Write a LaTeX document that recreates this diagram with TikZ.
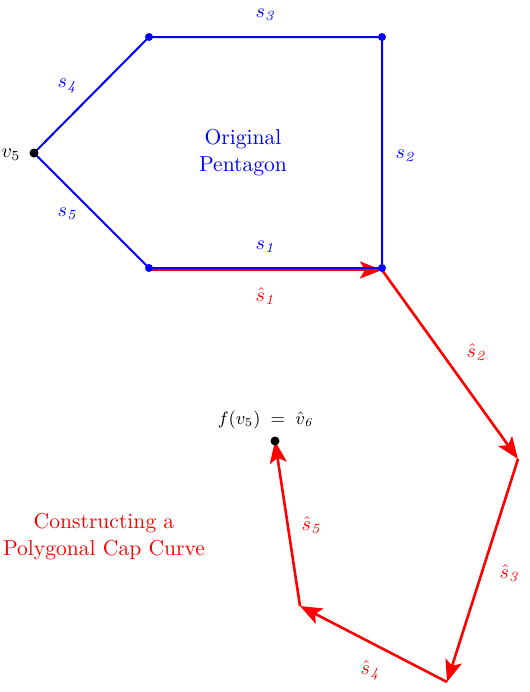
\documentclass[tikz,border=0pt]{standalone}
\usetikzlibrary{arrows.meta}
\tikzset{
  side/.style={blue, line width=1pt},
  capside/.style={red, line width=1.3pt, -{Stealth[length=11pt,width=8.5pt,inset=2.5pt]}},
  bluelbl/.style={blue},
  redlbl/.style={red}
}
\begin{document}
\begin{tikzpicture}[x=0.5pt,y=-0.5pt]
\useasboundingbox (0,0) rectangle (530,692);

% pentagon corners
\coordinate (A) at (149,268);
\coordinate (B) at (382,268);
\coordinate (C) at (382,37);
\coordinate (D) at (149,37);
\coordinate (v5) at (34,153);

% cap curve corners
\coordinate (P1) at (149,270);
\coordinate (P2) at (382,270);
\coordinate (P3) at (518,459);
\coordinate (P4) at (447,682);
\coordinate (P5) at (300,606);
\coordinate (P6) at (275,441);

\draw [capside] (P1) -- (P2);

\draw [side] (A) -- (B) -- (C) -- (D) -- (v5) -- cycle;

\draw [capside] (P2) -- (P3);
\draw [capside] (P3) -- (P4);
\draw [capside] (P4) -- (P5);
\draw [capside] (P5) -- (P6);

\foreach \p in {A,B,C,D}
  \fill [blue] (\p) circle (4);
\fill (v5) circle (4.5);
\fill (P6) circle (4.5);

\node [bluelbl] (s1) at (266,247) {$s_{\mathit{1}}$};
\node [bluelbl] (s2) at (406,156) {$s_{\mathit{2}}$};
\node [bluelbl] (s3) at (266,15) {$s_{\mathit{3}}$};
\node [bluelbl] (s4) at (68,86) {$s_{\mathit{4}}$};
\node [bluelbl] (s5) at (68,214) {$s_{\mathit{5}}$};
\node (lv5) at (11,155) {$v_5$};
\node [blue, align=center, font=\fontsize{10.8}{13.5}\selectfont] (title) at (243,153) {Original\\Pentagon};

\node [redlbl] (h1) at (266,296) {$\hat{s}_{\mathit{1}}$};
\node [redlbl] (h2) at (477,352) {$\hat{s}_{\mathit{2}}$};
\node [redlbl] (h3) at (510,573) {$\hat{s}_{\mathit{3}}$};
\node [redlbl] (h4) at (371,670) {$\hat{s}_{\mathit{4}}$};
\node [redlbl] (h5) at (312,525) {$\hat{s}_{\mathit{5}}$};

\node [font=\small] (fv) at (266,420) {$f(v_5)\;=\;\hat{v}_{\mathit{6}}$};
\node [red, align=center, font=\fontsize{10.8}{13.5}\selectfont] (captxt) at (104,537) {Constructing a\\Polygonal Cap Curve};
\end{tikzpicture}
\end{document}
